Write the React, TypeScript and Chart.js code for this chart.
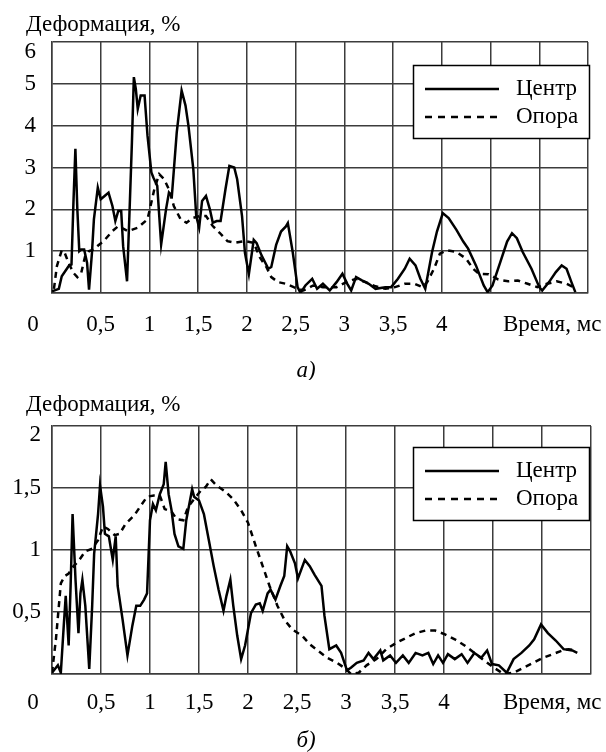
import React, { useEffect, useRef } from "react";
import { Chart, registerables } from "chart.js";

Chart.register(...registerables);

const FONT = '"Liberation Serif", "Times New Roman", serif';
const FS = 23;

// ---------- Chart а ----------
const centerTimeA = [0, 0.07, 0.1, 0.17, 0.2, 0.22, 0.24, 0.26, 0.28, 0.3, 0.33, 0.36, 0.38, 0.41, 0.43, 0.47, 0.5, 0.54, 0.58, 0.62, 0.65, 0.68, 0.71, 0.73, 0.77, 0.8, 0.82, 0.84, 0.86, 0.88, 0.91, 0.95, 0.98, 1.02, 1.04, 1.08, 1.12, 1.17, 1.2, 1.23, 1.28, 1.33, 1.37, 1.4, 1.45, 1.48, 1.51, 1.54, 1.58, 1.62, 1.65, 1.69, 1.73, 1.78, 1.82, 1.87, 1.9, 1.95, 1.98, 2.02, 2.07, 2.1, 2.15, 2.22, 2.25, 2.3, 2.35, 2.4, 2.42, 2.47, 2.52, 2.55, 2.6, 2.67, 2.72, 2.78, 2.85, 2.92, 2.98, 3.03, 3.07, 3.12, 3.18, 3.25, 3.32, 3.42, 3.48, 3.55, 3.62, 3.67, 3.73, 3.78, 3.83, 3.9, 3.95, 4.01, 4.07, 4.15, 4.22, 4.27, 4.35, 4.43, 4.47, 4.52, 4.6, 4.67, 4.72, 4.77, 4.83, 4.92, 5.0, 5.03, 5.1, 5.17, 5.23, 5.28, 5.33, 5.37];
const centerValueA = [0.04, 0.1, 0.4, 0.64, 0.68, 2.16, 3.45, 2.0, 1.0, 1.04, 1.04, 0.72, 0.08, 0.96, 1.76, 2.52, 2.24, 2.32, 2.4, 2.08, 1.72, 1.96, 1.96, 1.12, 0.28, 2.24, 3.6, 5.16, 4.88, 4.4, 4.72, 4.72, 3.76, 2.88, 2.76, 2.56, 1.16, 2.0, 2.4, 2.32, 3.84, 4.84, 4.48, 4.0, 2.96, 1.84, 1.56, 2.2, 2.32, 2.0, 1.68, 1.72, 1.72, 2.48, 3.04, 3.0, 2.72, 1.84, 0.96, 0.45, 1.27, 1.19, 0.9, 0.58, 0.62, 1.15, 1.47, 1.59, 1.67, 0.98, 0.14, 0.0, 0.18, 0.34, 0.1, 0.22, 0.06, 0.26, 0.46, 0.22, 0.06, 0.38, 0.3, 0.22, 0.1, 0.14, 0.14, 0.34, 0.58, 0.82, 0.66, 0.34, 0.1, 0.98, 1.47, 1.91, 1.79, 1.51, 1.23, 1.06, 0.66, 0.18, 0.02, 0.18, 0.74, 1.23, 1.43, 1.31, 0.98, 0.58, 0.14, 0.06, 0.26, 0.5, 0.66, 0.58, 0.26, 0.02];
const supportTimeA = [0.02, 0.05, 0.1, 0.13, 0.17, 0.22, 0.26, 0.3, 0.34, 0.38, 0.43, 0.48, 0.53, 0.62, 0.68, 0.78, 0.88, 0.98, 1.05, 1.1, 1.15, 1.2, 1.25, 1.32, 1.38, 1.45, 1.52, 1.58, 1.65, 1.72, 1.8, 1.88, 1.98, 2.07, 2.13, 2.2, 2.25, 2.32, 2.4, 2.48, 2.58, 2.68, 2.78, 2.92, 3.02, 3.12, 3.22, 3.32, 3.42, 3.52, 3.62, 3.72, 3.8, 3.85, 3.92, 3.98, 4.05, 4.15, 4.25, 4.32, 4.38, 4.48, 4.58, 4.68, 4.78, 4.88, 4.98, 5.08, 5.18, 5.28, 5.35];
const supportValueA = [0.1, 0.64, 1.02, 0.96, 0.72, 0.48, 0.38, 0.48, 0.88, 1.0, 1.04, 1.15, 1.24, 1.48, 1.6, 1.48, 1.56, 1.76, 2.48, 2.84, 2.72, 2.48, 2.08, 1.76, 1.68, 1.8, 1.84, 1.84, 1.6, 1.44, 1.24, 1.2, 1.24, 1.2, 0.86, 0.62, 0.38, 0.26, 0.22, 0.14, 0.06, 0.18, 0.14, 0.14, 0.26, 0.34, 0.26, 0.16, 0.1, 0.14, 0.22, 0.22, 0.14, 0.26, 0.58, 0.94, 1.02, 0.98, 0.82, 0.58, 0.46, 0.45, 0.32, 0.28, 0.3, 0.22, 0.14, 0.22, 0.28, 0.22, 0.14];

// ---------- Chart б ----------
const centerTimeB = [0, 0.06, 0.09, 0.12, 0.14, 0.17, 0.19, 0.21, 0.22, 0.24, 0.27, 0.29, 0.31, 0.34, 0.38, 0.41, 0.43, 0.47, 0.49, 0.52, 0.54, 0.58, 0.62, 0.65, 0.67, 0.72, 0.77, 0.82, 0.86, 0.9, 0.94, 0.97, 1.0, 1.03, 1.06, 1.1, 1.14, 1.16, 1.19, 1.22, 1.25, 1.29, 1.34, 1.37, 1.43, 1.45, 1.5, 1.55, 1.6, 1.65, 1.7, 1.75, 1.78, 1.82, 1.85, 1.89, 1.93, 1.97, 2.03, 2.08, 2.12, 2.15, 2.2, 2.23, 2.28, 2.33, 2.37, 2.4, 2.43, 2.48, 2.51, 2.58, 2.63, 2.68, 2.75, 2.78, 2.83, 2.9, 2.95, 3.01, 3.05, 3.11, 3.18, 3.23, 3.28, 3.35, 3.38, 3.45, 3.51, 3.58, 3.64, 3.71, 3.78, 3.84, 3.89, 3.94, 3.99, 4.04, 4.11, 4.18, 4.24, 4.31, 4.38, 4.44, 4.49, 4.56, 4.64, 4.71, 4.79, 4.87, 4.92, 4.99, 5.06, 5.14, 5.22, 5.31, 5.36];
const centerValueB = [0.01, 0.07, 0.01, 0.39, 0.63, 0.23, 0.71, 1.29, 1.11, 0.76, 0.33, 0.65, 0.76, 0.55, 0.04, 0.55, 0.97, 1.29, 1.52, 1.35, 1.13, 1.11, 0.92, 1.11, 0.71, 0.44, 0.15, 0.39, 0.55, 0.55, 0.6, 0.65, 1.24, 1.37, 1.32, 1.45, 1.53, 1.71, 1.45, 1.32, 1.13, 1.03, 1.01, 1.24, 1.49, 1.43, 1.4, 1.29, 1.08, 0.87, 0.68, 0.51, 0.63, 0.76, 0.55, 0.31, 0.12, 0.23, 0.49, 0.56, 0.57, 0.51, 0.65, 0.68, 0.6, 0.71, 0.79, 1.03, 0.99, 0.89, 0.77, 0.92, 0.87, 0.8, 0.71, 0.47, 0.2, 0.23, 0.17, 0.03, 0.05, 0.09, 0.11, 0.17, 0.12, 0.19, 0.11, 0.15, 0.09, 0.15, 0.09, 0.17, 0.15, 0.17, 0.08, 0.15, 0.09, 0.16, 0.12, 0.16, 0.09, 0.17, 0.13, 0.19, 0.08, 0.07, 0.01, 0.12, 0.17, 0.23, 0.28, 0.4, 0.33, 0.27, 0.2, 0.19, 0.17];
const supportTimeB = [0, 0.04, 0.07, 0.09, 0.13, 0.17, 0.22, 0.27, 0.34, 0.41, 0.47, 0.52, 0.57, 0.64, 0.69, 0.75, 0.84, 0.9, 0.97, 1.04, 1.1, 1.15, 1.22, 1.27, 1.34, 1.39, 1.45, 1.52, 1.57, 1.62, 1.68, 1.77, 1.85, 1.93, 2.0, 2.08, 2.15, 2.22, 2.3, 2.37, 2.45, 2.55, 2.63, 2.71, 2.81, 2.91, 3.0, 3.05, 3.13, 3.21, 3.31, 3.41, 3.51, 3.61, 3.71, 3.81, 3.91, 4.01, 4.11, 4.21, 4.31, 4.41, 4.51, 4.61, 4.71, 4.81, 4.91, 5.01, 5.11, 5.21, 5.27, 5.34];
const supportValueB = [0.01, 0.28, 0.55, 0.73, 0.79, 0.81, 0.87, 0.91, 0.99, 1.01, 1.08, 1.19, 1.17, 1.12, 1.13, 1.21, 1.28, 1.35, 1.43, 1.44, 1.44, 1.33, 1.31, 1.25, 1.24, 1.35, 1.41, 1.48, 1.51, 1.57, 1.52, 1.47, 1.41, 1.32, 1.22, 1.03, 0.87, 0.71, 0.55, 0.44, 0.36, 0.31, 0.24, 0.19, 0.13, 0.09, 0.04, 0.0, 0.01, 0.07, 0.12, 0.2, 0.25, 0.29, 0.33, 0.35, 0.35, 0.32, 0.28, 0.23, 0.17, 0.11, 0.05, 0.0, 0.01, 0.05, 0.09, 0.13, 0.16, 0.19, 0.2, 0.19];

// ---------- Shared axis text ----------
const xTickValues = [0.5, 1, 1.5, 2, 2.5, 3, 3.5, 4];
const xTickLabels = ["0,5", "1", "1,5", "2", "2,5", "3", "3,5", "4"];
const yTickValuesA = [1, 2, 3, 4, 5, 6];
const yTickLabelsA = ["1", "2", "3", "4", "5", "6"];
const yTickValuesB = [0.5, 1, 1.5, 2];
const yTickLabelsB = ["0,5", "1", "1,5", "2"];
const seriesNames = ["Центр", "Опора"];
const yTitle = "Деформация, %";
const xTitle = "Время, мс";
const xOriginLabel = "0";

const W = 606;
const GRID = "#3c3c3c";

type Props = {
  height: number;
  top: number;
  bottom: number;
  yMax: number;
  yStep: number;
  yTickValues: number[];
  yTickLabels: string[];
  cT: number[];
  cV: number[];
  sT: number[];
  sV: number[];
  caption: string;
  titleBase: number;
  xPad: number;
  captionY: number;
  legendTop: number;
  yPad: number;
  topShift: number;
};

function pts(t: number[], v: number[]) {
  return t.map((x, i) => ({ x, y: v[i] }));
}

function Panel(p: Props) {
  const ref = useRef<HTMLCanvasElement | null>(null);
  useEffect(() => {
    if (!ref.current) return;
    const labelY = p.bottom + p.xPad + (FS * 1.2) / 2;
    const textPlugin = {
      id: "texts",
      afterDraw(chart: any) {
        const ctx = chart.ctx;
        ctx.save();
        ctx.fillStyle = "#000";
        ctx.font = `${FS}px ${FONT}`;
        ctx.textBaseline = "alphabetic";
        ctx.textAlign = "left";
        ctx.fillText(yTitle, 26, p.titleBase);
        ctx.textBaseline = "middle";
        ctx.textAlign = "center";
        ctx.fillText(xOriginLabel, 33, labelY);
        ctx.textAlign = "left";
        ctx.fillText(xTitle, 503, labelY);
        ctx.textAlign = "center";
        ctx.font = `italic ${FS}px ${FONT}`;
        ctx.fillText(p.caption, 306, p.captionY);
        // legend
        const lx = 413, ly = p.legendTop, lw = 176, lh = 73;
        ctx.fillStyle = "#fff";
        ctx.fillRect(lx, ly, lw, lh);
        ctx.strokeStyle = "#000";
        ctx.lineWidth = 1.5;
        ctx.strokeRect(lx + 0.5, ly + 0.5, lw, lh);
        ctx.lineWidth = 2.5;
        ctx.beginPath();
        ctx.moveTo(425, ly + 24);
        ctx.lineTo(499, ly + 24);
        ctx.stroke();
        ctx.setLineDash([7, 6]);
        ctx.beginPath();
        ctx.moveTo(425, ly + 52);
        ctx.lineTo(499, ly + 52);
        ctx.stroke();
        ctx.setLineDash([]);
        ctx.fillStyle = "#000";
        ctx.font = `${FS}px ${FONT}`;
        ctx.textAlign = "left";
        ctx.fillText(seriesNames[0], 516, ly + 24);
        ctx.fillText(seriesNames[1], 516, ly + 52);
        ctx.restore();
      },
    };
    const chart = new Chart(ref.current, {
      type: "line",
      data: {
        datasets: [
          {
            label: seriesNames[0],
            data: pts(p.cT, p.cV),
            borderColor: "#000",
            borderWidth: 2.5,
            pointRadius: 0,
            tension: 0,
            fill: false,
          },
          {
            label: seriesNames[1],
            data: pts(p.sT, p.sV),
            borderColor: "#000",
            borderWidth: 2.5,
            borderDash: [6, 5],
            pointRadius: 0,
            tension: 0,
            fill: false,
          },
        ],
      },
      options: {
        responsive: false,
        animation: false,
        devicePixelRatio: 1,
        layout: { padding: { top: p.top, right: 3, left: 0, bottom: 0 } },
        plugins: {
          legend: { display: false },
          tooltip: { enabled: false },
          title: { display: false },
        },
        scales: {
          x: {
            type: "linear",
            min: 0,
            max: 5.5,
            afterFit: (s: any) => {
              s.height = p.height - p.bottom;
            },
            afterBuildTicks: (s: any) => {
              const arr = [];
              for (let i = 0; i <= 11; i++) arr.push({ value: i * 0.5 });
              s.ticks = arr;
            },
            ticks: {
              autoSkip: false,
              maxRotation: 0,
              padding: p.xPad,
              color: "#000",
              font: { family: FONT, size: FS },
              callback: (v: any) => {
                const i = xTickValues.findIndex((t) => Math.abs(t - Number(v)) < 1e-6);
                return i >= 0 ? xTickLabels[i] : "";
              },
            },
            grid: { color: GRID, lineWidth: 1.5, drawTicks: false },
            border: { display: true, color: GRID, width: 1.5 },
          },
          y: {
            type: "linear",
            min: 0,
            max: p.yMax,
            afterFit: (s: any) => {
              s.width = 52;
            },
            afterBuildTicks: (s: any) => {
              const arr = [];
              const n = Math.round(p.yMax / p.yStep);
              for (let i = 0; i <= n; i++) arr.push({ value: i * p.yStep });
              s.ticks = arr;
            },
            ticks: {
              autoSkip: false,
              padding: p.yPad,
              color: "#000",
              font: { family: FONT, size: FS, lineHeight: `${p.topShift * 2}px` },
              callback: (v: any) => {
                const i = p.yTickValues.findIndex((t) => Math.abs(t - Number(v)) < 1e-6);
                if (i < 0) return "";
                // top label sits a little below its grid line, as in the source
                if (Math.abs(Number(v) - p.yMax) < 1e-6) return ["", p.yTickLabels[i]];
                return p.yTickLabels[i];
              },
            },
            grid: { color: GRID, lineWidth: 1.5, drawTicks: false },
            border: { display: true, color: GRID, width: 1.5 },
          },
        },
      },
      plugins: [textPlugin],
    } as any);
    return () => chart.destroy();
  }, []);
  return <canvas ref={ref} width={W} height={p.height} style={{ display: "block", width: W, height: p.height }} />;
}

export default function App() {
  return (
    <div style={{ position: "absolute", left: 0, top: 0, width: W, height: 752, background: "#fff" }}>
      <Panel
        height={380}
        top={42}
        bottom={293}
        yMax={6}
        yStep={1}
        yTickValues={yTickValuesA}
        yTickLabels={yTickLabelsA}
        cT={centerTimeA}
        cV={centerValueA}
        sT={supportTimeA}
        sV={supportValueA}
        caption="а)"
        titleBase={31}
        xPad={18}
        captionY={371}
        legendTop={65}
        yPad={16}
        topShift={10}
      />
      <Panel
        height={372}
        top={46}
        bottom={294}
        yMax={2}
        yStep={0.5}
        yTickValues={yTickValuesB}
        yTickLabels={yTickLabelsB}
        cT={centerTimeB}
        cV={centerValueB}
        sT={supportTimeB}
        sV={supportValueB}
        caption="б)"
        titleBase={31}
        xPad={15}
        captionY={361}
        legendTop={67}
        yPad={11}
        topShift={9}
      />
    </div>
  );
}
